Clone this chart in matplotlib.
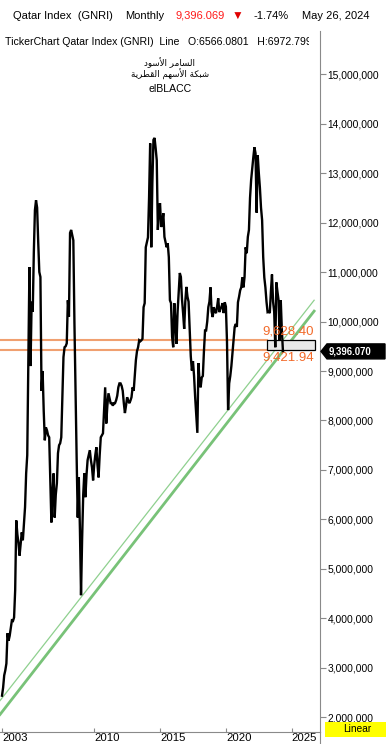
import numpy as np
import matplotlib
matplotlib.use("Agg")
import matplotlib.pyplot as plt
from matplotlib.ticker import FixedLocator, FuncFormatter
from matplotlib.patches import Rectangle, Polygon
from matplotlib.lines import Line2D
from matplotlib.transforms import IdentityTransform

plt.rcParams['font.family'] = ['Liberation Sans', 'DejaVu Sans']

# Monthly close in millions (Jan 2003 .. May 2024)
close_2003 = [2.44, 2.6, 2.85, 2.95, 3.09, 3.7, 3.55, 3.65, 3.8, 3.96, 3.95, 4.02]
close_2004 = [4.57, 5.98, 5.7, 5.52, 5.27, 5.5, 5.74, 5.58, 5.9, 6.25, 6.93, 7.3]
close_2005 = [9.3, 11.1, 9.1, 10.4, 10.2, 11.4, 12.25, 12.45, 12.3, 11.6, 11.0, 10.9]
close_2006 = [8.6, 9.0, 8.2, 7.6, 7.86, 7.8, 7.7, 7.66, 6.8, 5.94, 6.5, 6.93]
close_2007 = [6.04, 6.5, 6.73, 7.34, 7.5, 7.54, 7.66, 8.5, 9.28, 9.48, 9.5, 9.56]
close_2008 = [10.43, 10.1, 11.79, 11.85, 11.75, 11.64, 9.97, 8.6, 7.26, 6.04, 6.85, 5.8]
close_2009 = [4.47, 5.6, 6.5, 6.93, 6.45, 6.9, 7.2, 7.3, 7.4, 7.2, 7.05, 6.79]
close_2010 = [7.1, 7.3, 7.46, 7.1, 6.85, 7.3, 7.66, 7.7, 7.74, 8.2, 8.67, 7.94]
close_2011 = [8.3, 8.55, 8.45, 8.35, 8.35, 8.3, 8.35, 8.35, 8.41, 8.5, 8.67, 8.75]
close_2012 = [8.75, 8.7, 8.6, 8.35, 8.15, 8.3, 8.47, 8.4, 8.35, 8.4, 8.47, 8.67]
close_2013 = [8.6, 8.9, 9.22, 9.4, 9.48, 9.62, 9.6, 9.62, 9.65, 10.29, 10.37, 11.5]
close_2014 = [11.6, 11.7, 12.5, 13.6, 11.5, 12.8, 13.67, 13.71, 13.5, 13.26, 11.85, 12.3]
close_2015 = [12.39, 11.91, 12.0, 12.19, 11.71, 11.6, 11.5, 11.58, 11.3, 10.43, 10.37, 9.69]
close_2016 = [9.48, 10.37, 10.0, 9.55, 10.2, 10.6, 10.98, 10.9, 10.45, 10.17, 9.85, 10.4]
close_2017 = [10.7, 10.5, 10.4, 9.85, 9.3, 9.01, 9.2, 8.9, 8.47, 8.1, 7.75, 9.16]
close_2018 = [8.8, 8.67, 8.87, 8.9, 9.4, 9.82, 9.82, 10.0, 10.29, 10.4, 10.69, 10.2]
close_2019 = [10.09, 10.29, 10.2, 10.17, 10.3, 10.47, 10.19, 10.25, 10.3, 10.37, 10.17, 10.39]
close_2020 = [10.3, 9.6, 8.21, 8.75, 8.9, 9.1, 9.36, 9.6, 9.89, 9.95, 9.89, 10.39]
close_2021 = [10.5, 10.63, 10.69, 10.89, 10.69, 10.9, 11.5, 11.38, 11.71, 11.85, 12.5, 12.86]
close_2022 = [13.1, 13.32, 13.52, 13.4, 12.2, 13.36, 13.0, 12.7, 12.3, 12.05, 11.3, 10.89]
close_2023 = [10.69, 10.4, 10.19, 10.2, 10.17, 10.6, 10.95, 10.4, 10.2, 9.48, 10.79, 10.6]
close_2024 = [10.43, 9.62, 10.43, 9.82, 9.39607]

# support trend lines: (year, value in millions) at both ends
thin_line_x = [2002.85, 2026.7]
thin_line_y = [2.34, 10.43]
thick_line_x = [2002.85, 2026.7]
thick_line_y = [2.06, 10.21]

# horizontal levels (zone between them)
levels = [9628400, 9421940]
zone_x = [2023.12, 2026.77]

year_ticks = [2003, 2010, 2015, 2020, 2025]
price_ticks = np.arange(2, 16) * 1e6

close = np.concatenate([close_2003, close_2004, close_2005, close_2006, close_2007,
                        close_2008, close_2009, close_2010, close_2011, close_2012,
                        close_2013, close_2014, close_2015, close_2016, close_2017,
                        close_2018, close_2019, close_2020, close_2021, close_2022,
                        close_2023, close_2024]) * 1e6
months = 2003 + np.arange(len(close)) / 12.0

W, H = 388, 744
fig = plt.figure(figsize=(W / 100, H / 100), dpi=100)
fig.patch.set_facecolor('white')

ax_top, ax_bot, ax_right = 31, 731.5, 320
ax = fig.add_axes([0, 1 - ax_bot / H, ax_right / W, (ax_bot - ax_top) / H])
ax.set_xlim(2002.848, 2027.146)
ax.set_ylim(1.716e6, 15.87e6)

grey = '#8a8a8a'
for s in ['left', 'top']:
    ax.spines[s].set_visible(False)
ax.spines['right'].set_color(grey)
ax.spines['bottom'].set_color(grey)

# trend lines
ax.plot(thin_line_x, np.array(thin_line_y) * 1e6, color='#8fd08f', lw=0.9, zorder=2)
ax.plot(thick_line_x, np.array(thick_line_y) * 1e6, color='#78c278', lw=2.0, zorder=2)

# levels
orange_line = '#f0a070'
orange_text = '#f26a2a'
for lv in levels:
    ax.plot([2002.848, zone_x[0]], [lv, lv], color=orange_line, lw=1.5, zorder=2)
ax.add_patch(Rectangle((zone_x[0], levels[1]), zone_x[1] - zone_x[0], levels[0] - levels[1],
                       facecolor='#e8e8e8', edgecolor='black', lw=0.9, zorder=2))
ax.annotate(f"{levels[0] / 1000:,.2f}", (2022.74, levels[0]), xytext=(0, 2),
            textcoords='offset points', ha='left', va='bottom', color=orange_text,
            fontsize=9.5, zorder=5)
ax.annotate(f"{levels[1] / 1000:,.2f}", (2022.74, levels[1]), xytext=(0, -1),
            textcoords='offset points', ha='left', va='top', color=orange_text,
            fontsize=9.5, zorder=5)

# price
ax.plot(months, close, color='black', lw=1.7, zorder=4, solid_joinstyle='miter')

# axes ticks
ax.yaxis.tick_right()
ax.yaxis.set_major_locator(FixedLocator(price_ticks))
ax.yaxis.set_major_formatter(FuncFormatter(lambda v, p: f"{v:,.0f}"))
ax.tick_params(axis='y', direction='out', length=4.3, width=0.8, color=grey,
               labelcolor='black', pad=1, labelsize=7.4)
ax.set_xticks(year_ticks)
ax.set_xticklabels([str(y) for y in year_ticks])
ax.tick_params(axis='x', direction='in', length=3.2, width=0.8, color=grey,
               labelcolor='black', pad=1.2, labelsize=8.2)
for lab in ax.get_xticklabels():
    lab.set_horizontalalignment('left')

# right spine continues to the bottom of the picture
fig.add_artist(Line2D([ax_right / W] * 2, [0, 1 - ax_bot / H], color=grey, lw=0.8))

# header
hy = 1 - 16 / H
fig.text(13 / W, hy, "Qatar Index  (GNRI)", fontsize=8.0, va='center')
fig.text(125 / W, hy, "Monthly", fontsize=8.0, va='center')
fig.text(176 / W, hy, "9,396.069", fontsize=8.0, va='center', color='#ff1a1a')
fig.text(232 / W, hy - 1 / H, "\u25bc", fontsize=8.6, va='center', color='#e00000')
fig.text(253 / W, hy, "-1.74%", fontsize=8.0, va='center')
fig.text(302 / W, hy, "May 26, 2024", fontsize=8.0, va='center')

sub = fig.text(5 / W, 1 - 42 / H,
               "TickerChart Qatar Index (GNRI)  Line   O:6566.0801   H:6972.7998",
               fontsize=7.6, va='center')
sub.set_clip_path(Rectangle((0, 0), 309 / W, 1, transform=fig.transFigure))

# watermark (Arabic, in presentation forms, written right to left)
w1 = "\uFE8D\uFEDF\uFEB4\uFE8E\uFEE3\uFEAE"
w2 = "\uFE8D\uFEF7\uFEB3\uFEEE\uFEA9"
w3 = "\uFEB7\uFE92\uFEDC\uFE94"
w4 = "\uFE8D\uFEF7\uFEB3\uFEEC\uFEE2"
w5 = "\uFE8D\uFEDF\uFED8\uFEC4\uFEAE\uFEF3\uFE94"
arab1 = (w1 + " " + w2)[::-1]
arab2 = (w3 + " " + w4 + " " + w5)[::-1]
fig.text(169 / W, 1 - 63 / H, arab1, fontsize=6.3, ha='center', va='center',
         family=['DejaVu Sans'])
fig.text(170 / W, 1 - 74 / H, arab2, fontsize=6.3, ha='center', va='center',
         family=['DejaVu Sans'])
fig.text(170 / W, 1 - 89 / H, "elBLACC", fontsize=7.6, ha='center', va='center')

# last value tag on the price axis
yc = ax.transData.transform((2027.0, close[-1]))[1]
tag = Polygon([(321, yc), (327, yc + 7.5), (385, yc + 7.5), (385, yc - 7.5), (327, yc - 7.5)],
              closed=True, facecolor='black', edgecolor='black', transform=IdentityTransform())
fig.add_artist(tag)
fig.text(350 / W, yc / H, "9,396.070", color='white', fontsize=6.9, fontweight='bold',
         ha='center', va='center')

# scale mode box
fig.add_artist(Rectangle((325 / W, 1 - 737 / H), 61 / W, 15 / H, transform=fig.transFigure,
                         facecolor='#ffff00', edgecolor='none'))
fig.text(357 / W, 1 - 729.5 / H, "Linear", fontsize=7.3, ha='center', va='center')

fig.savefig("out.png", dpi=100)
